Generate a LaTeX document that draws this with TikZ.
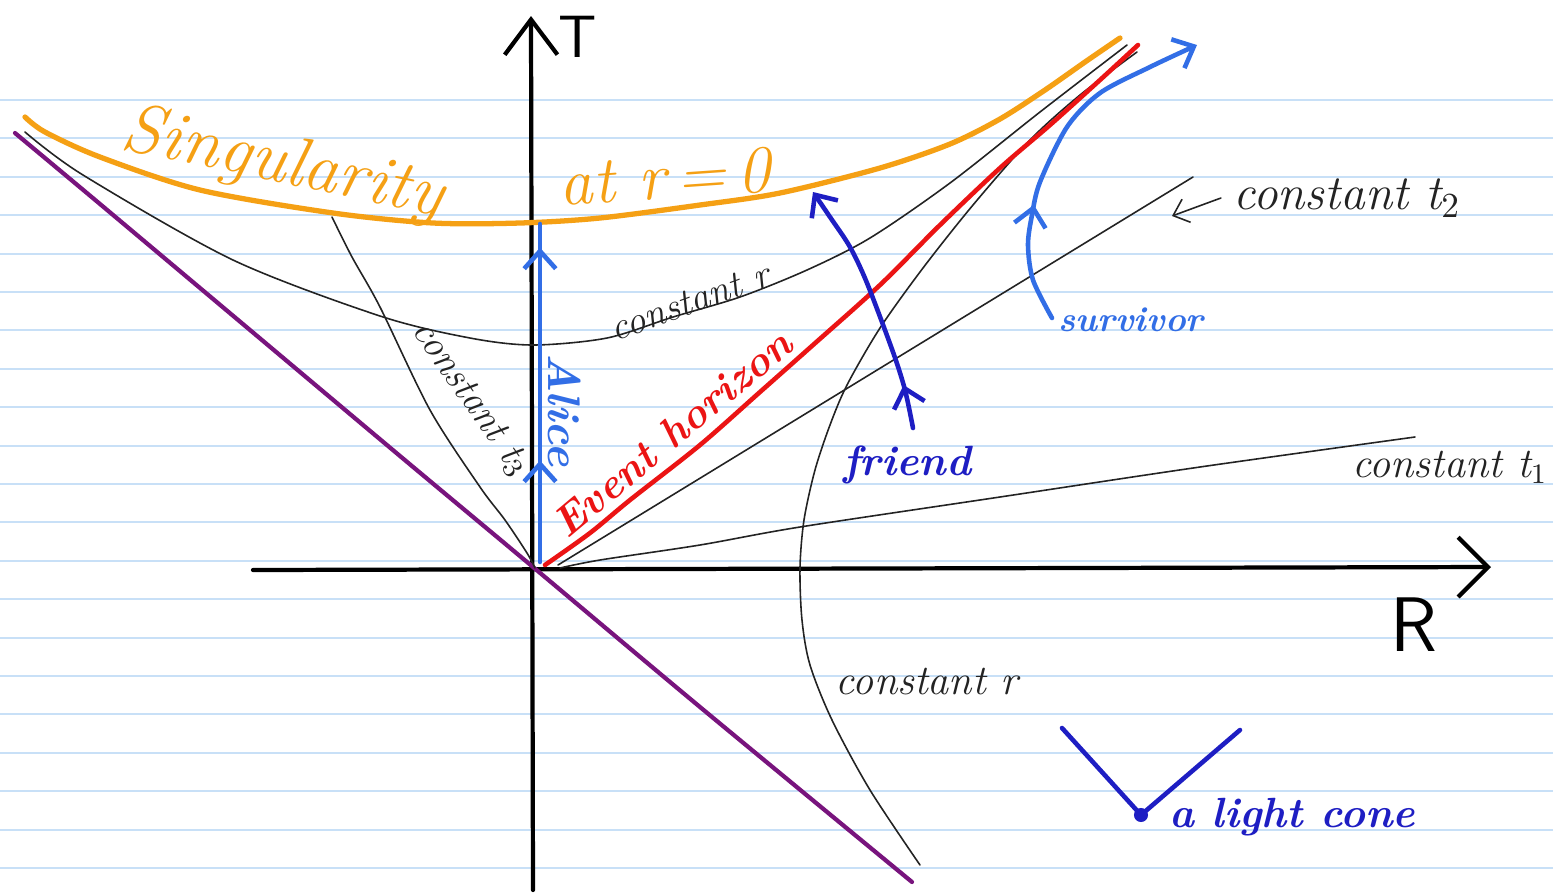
\documentclass[tikz,border=0pt]{standalone}
\usetikzlibrary{arrows.meta,decorations.markings}
\definecolor{paperline}{RGB}{200,224,247}
\definecolor{orangeC}{RGB}{245,160,20}
\definecolor{redC}{RGB}{235,20,20}
\definecolor{purpleC}{RGB}{120,20,125}
\definecolor{blueC}{RGB}{50,110,230}
\definecolor{dblueC}{RGB}{30,30,195}
\definecolor{inkC}{RGB}{35,35,35}
\newcommand{\myfs}[1]{\fontsize{#1}{#1}\selectfont}
\tikzset{
  papline/.style={paperline, line width=0.6pt},
  thinblk/.style={inkC, line width=0.45pt},
  axisline/.style={black, line width=1.2pt},
  purpc/.style={purpleC, line width=1.2pt},
  orangec/.style={orangeC, line width=1.5pt},
  redc/.style={redC, line width=1.3pt},
  alicec/.style={blueC, line width=1.3pt},
  friendc/.style={dblueC, line width=1.3pt},
  barb/.tip={Straight Barb[length=5pt,width=9pt,line width=1.3pt]},
  blk/.style={inkC, font=\itshape},
  orangetext/.style={orangeC, font=\itshape},
  redtext/.style={redC, font=\itshape\bfseries},
  alicetext/.style={blueC, font=\itshape\bfseries},
  friendtext/.style={dblueC, font=\itshape\bfseries},
  axlab/.style={black, font=\sffamily},
}
\begin{document}
\begin{tikzpicture}[x=0.01cm,y=-0.01cm,line cap=round,line join=round]
\useasboundingbox (0,0) rectangle (1553,893);
\fill[white] (0,0) rectangle (1553,893);
% ruled paper
\foreach \k in {0,...,20} \draw[papline] (0,{100+38.4*\k}) -- (1553,{100+38.4*\k});

% axes
\coordinate (Tbot) at (533,890);
\coordinate (Ttop) at (531,16);
\coordinate (Rleft) at (253,570);
\coordinate (Rright) at (1491,567);
\draw[axisline, -{Straight Barb[length=10pt,width=15pt,line width=1.2pt]}] (Tbot) -- (Ttop);
\draw[axisline, -{Straight Barb[length=8.5pt,width=17pt,line width=1.2pt]}] (Rleft) -- (Rright);
\node[axlab] (T) at (578,37) {\myfs{17}T};
\node[axlab] (R) at (1414,625) {\myfs{22}R};

% purple light ray
\draw[purpc] plot[smooth] coordinates {(15,133) (100,204) (250,330) (400,456) (533,567) (700,707) (912,882)};

% constant t3
\draw[thinblk] plot[smooth] coordinates {(332,217) (352,257) (380,307) (430,410) (480,487) (505,520) (527,553) (535,568)};

% constant r (inside)
\draw[thinblk] plot[smooth] coordinates {(25,132) (83,175) (233,260) (380,316) (470,338) (533,345) (607,338) (673,317) (740,297) (807,270) (870,238) (950,183) (1040,112) (1127,45)};

% constant r (outside)
\draw[thinblk] plot[smooth] coordinates {(920,865) (870,790) (832,720) (810,665) (802,620) (800,568) (804,520) (815,470) (830,425) (847,385) (880,328) (923,268) (973,205) (1030,140) (1080,95) (1137,52)};

% constant t2 and t1
\draw[thinblk] (558,565) -- (1193,177);
\draw[thinblk] plot[smooth] coordinates {(560,568) (600,560) (700,545) (800,527) (1000,497) (1200,467) (1415,437)};

% event horizon
\draw[redc] plot[smooth] coordinates {(545,565) (590,533) (630,500) (700,445) (760,392) (813,345) (880,285) (940,225) (1000,168) (1050,125) (1100,80) (1138,45)};

% singularity
\draw[orangec] plot[smooth] coordinates {(25,117) (45,132) (100,157) (200,190) (333,213) (433,223) (520,223) (600,218) (700,205) (780,193) (880,168) (950,144) (1000,119) (1045,90) (1085,62) (1120,38)};

% Alice
\draw[alicec, postaction={decorate}, decoration={markings,
   mark=at position 0.30 with {\arrow{barb}},
   mark=at position 0.93 with {\arrow{barb}}}] (540,562) -- (540,224);

% friend
\draw[friendc, -barb, postaction={decorate}, decoration={markings,
   mark=at position 0.17 with {\arrow{barb}}}]
   plot[smooth] coordinates {(913,428) (905,390) (893,352) (867,283) (850,247) (830,217) (813,192)};

% survivor
\draw[alicec, -barb, postaction={decorate}, decoration={markings,
   mark=at position 0.33 with {\arrow{barb}}}]
   plot[smooth] coordinates {(1052,318) (1033,280) (1028,245) (1032,215) (1040,182) (1067,127) (1100,93) (1150,67) (1197,45)};

% light cone
\coordinate (lcL) at (1062,728);
\coordinate (lcB) at (1141,815);
\coordinate (lcR) at (1240,730);
\draw[friendc] (lcL) -- (lcB) -- (lcR);
\fill[dblueC] (lcB) circle (2pt);

% labels
\node[orangetext, rotate=-12] (sing) at (283,165) {\myfs{20}Singularity};
\node[orangetext, rotate=4] (atr) at (665,177) {\myfs{19}at r\,=\,0};
\node[blk, rotate=20] (cr1) at (690,302) {\myfs{11}constant r};
\node[blk, rotate=-55] (ct3) at (471,399) {\myfs{11}constant t$_3$};
\node[blk] (ct2) at (1347,198) {\myfs{14}constant t$_2$};
\node[blk] (ct1) at (1450,467) {\myfs{12}constant t$_1$};
\node[blk] (cr2) at (927,682) {\myfs{12}constant r};
\node[alicetext, rotate=-90] (alice) at (565,410) {\myfs{13}Alice};
\node[redtext, rotate=40] (eh) at (672,433) {\myfs{12}Event horizon};
\node[friendtext] (friend) at (907,465) {\myfs{12}friend};
\node[alicetext] (surv) at (1131,320) {\myfs{10}survivor};
\node[friendtext] (lc) at (1292,817) {\myfs{12}a light cone};

\coordinate (t2end) at (1172,216);
\draw[thinblk, -{Straight Barb[length=4pt,width=7pt]}] (ct2.west) -- (t2end);
\end{tikzpicture}
\end{document}
